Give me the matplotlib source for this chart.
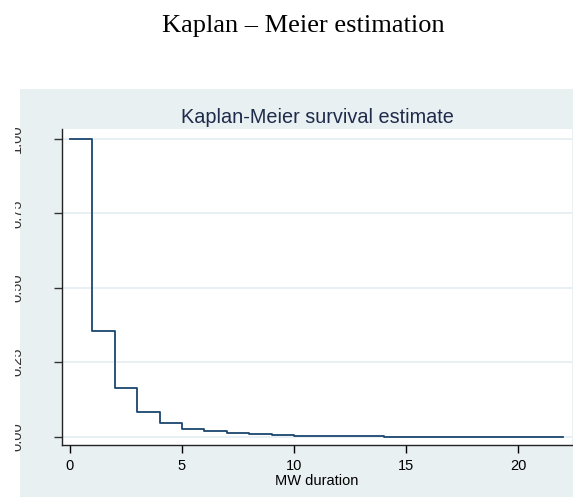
import matplotlib
matplotlib.use("Agg")
import matplotlib.pyplot as plt
from matplotlib.patches import Rectangle
from matplotlib.transforms import Bbox, TransformedBbox

# Kaplan-Meier survival estimate
times = [0, 1, 2, 3, 4, 5, 6, 7, 8, 9, 10, 12, 14, 22]
surv = [1.0, 0.356, 0.163, 0.084, 0.047, 0.027, 0.018, 0.0134, 0.008, 0.0057,
        0.0024, 0.0007, 0.0003, 0.0003]
xticks = [0, 5, 10, 15, 20]
yticks = [0.0, 0.25, 0.5, 0.75, 1.0]
ylabels = ["0.00", "0.25", "0.50", "0.75", "1.00"]

W, H = 573, 497
fig = plt.figure(figsize=(W / 100, H / 100), dpi=100, facecolor="white")

# stata graph region
bg = Rectangle((20 / W, 0), 1 - 20 / W, (H - 89) / H, transform=fig.transFigure,
               facecolor="#e9f0f2", edgecolor="none", zorder=-5)
fig.patches.append(bg)

fig.text(303 / W, 1 - 31.7 / H, "Kaplan \u2013 Meier estimation",
         family="Liberation Serif", fontsize=19, ha="center", va="baseline")

ax = fig.add_axes([62 / W, 52 / H, 510 / W, 316 / H])
ax.set_facecolor("white")
ax.step(times, surv, where="post", color="#1a476f", lw=1.3, zorder=3)

ax.set_xlim(-0.357, 22.41)
ax.set_ylim(-0.028, 1.0336)
ax.set_xticks(xticks)
ax.set_yticks(yticks)
ax.set_yticklabels(ylabels)
ax.yaxis.grid(True, color="#e7eff2", lw=1.3)
ax.set_axisbelow(True)

for s in ["top", "right"]:
    ax.spines[s].set_visible(False)
for s in ["left", "bottom"]:
    ax.spines[s].set_color("#222222")
    ax.spines[s].set_linewidth(1.0)

ax.tick_params(axis="x", length=6, width=1, pad=4, labelsize=10.5, colors="black")
ax.tick_params(axis="y", length=6, width=1, pad=21.2, labelsize=10.5, colors="#333333")
for lab in ax.get_xticklabels():
    lab.set_family("Liberation Sans")

# labels on the left are cut off in the reference
clip = TransformedBbox(Bbox.from_extents(14.5 / W, 0, 1, 1), fig.transFigure)
for lab in ax.get_yticklabels():
    lab.set_family("Liberation Sans")
    lab.set_rotation(90)
    lab.set_va("center")
    lab.set_ha("right")
    lab.set_clip_box(clip)
    lab.set_clip_on(True)

ax.set_xlabel("MW duration", family="Liberation Sans", fontsize=10.5, labelpad=0.5)
ax.set_title("Kaplan-Meier survival estimate", family="Liberation Sans",
             fontsize=14.3, color="#1e2b4a", pad=4.1)

fig.savefig("out.png", dpi=100)
